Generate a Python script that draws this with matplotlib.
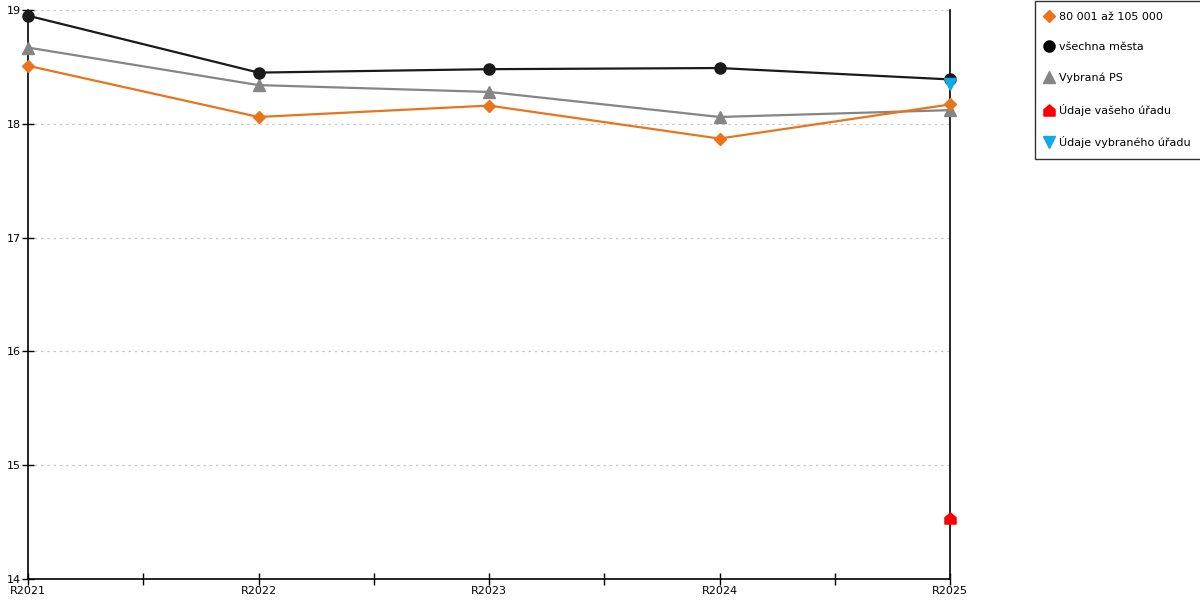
import numpy as np
import matplotlib.pyplot as plt
from matplotlib.lines import Line2D
from matplotlib.path import Path

# Hodnoty
roky = ['R2021', 'R2022', 'R2023', 'R2024', 'R2025']
velikost_80_105 = [18.51, 18.06, 18.16, 17.87, 18.17]
vsechna_mesta = [18.95, 18.45, 18.48, 18.49, 18.39]
vybrana_ps = [18.67, 18.34, 18.28, 18.06, 18.12]
vas_urad = [14.54]
vybrany_urad = [18.35]
y_ticks = [14, 15, 16, 17, 18, 19]

oranzova = '#E8741E'
seda = '#858585'
cervena = '#FF0000'
modra = '#11A9E6'

# domeček jako značka
domek = Path([(-1, -1), (1, -1), (1, 0.15), (0, 1), (-1, 0.15), (-1, -1)],
             [Path.MOVETO, Path.LINETO, Path.LINETO, Path.LINETO, Path.LINETO, Path.CLOSEPOLY])

plt.rcParams['font.family'] = ['DejaVu Sans']
fig = plt.figure(figsize=(12, 6), dpi=100)
ax = fig.add_axes([28 / 1200, 21 / 600, 922 / 1200, 569 / 600])

x = np.arange(len(roky))
last = x[-1:]

ax.plot(x, vybrana_ps, color=seda, lw=1.6, marker='^', ms=8, clip_on=False, zorder=3)
ax.plot(x, velikost_80_105, color=oranzova, lw=1.6, marker='D', ms=6, clip_on=False, zorder=4)
ax.plot(x, vsechna_mesta, color='#1a1a1a', lw=1.6, marker='o', ms=8, clip_on=False, zorder=5)
ax.plot(last, vybrany_urad, ls='none', color=modra, marker='v', ms=9, clip_on=False, zorder=6)
ax.plot(last, vas_urad, ls='none', color=cervena, marker=domek, ms=8, clip_on=False, zorder=6)

ax.set_xlim(0, 4)
ax.set_ylim(14, 19)
ax.set_xticks(x)
ax.set_xticklabels(roky)
ax.set_xticks(x[:-1] + 0.5, minor=True)
ax.set_yticks(y_ticks)
ax.grid(axis='y', color='#c8c8c8', ls=(0, (2, 3)), lw=0.9)
ax.set_axisbelow(True)

ax.spines['top'].set_visible(False)
for s in ['left', 'bottom', 'right']:
    ax.spines[s].set_color('black')
    ax.spines[s].set_linewidth(1.2)
ax.tick_params(axis='both', which='both', direction='inout', length=8, width=1,
               labelsize=8, pad=1)
ax.tick_params(axis='y', right=False)

handles = [
    Line2D([], [], ls='none', marker='D', color=oranzova, ms=6),
    Line2D([], [], ls='none', marker='o', color='black', ms=8),
    Line2D([], [], ls='none', marker='^', color=seda, ms=8),
    Line2D([], [], ls='none', marker=domek, color=cervena, ms=8),
    Line2D([], [], ls='none', marker='v', color=modra, ms=8),
]
labels = ['80 001 až 105 000', 'všechna města', 'Vybraná PS',
          'Údaje vašeho úřadu', 'Údaje vybraného úřadu']
leg = fig.legend(handles, labels, loc='upper left', bbox_to_anchor=(1035 / 1200, 1 - 1 / 600),
                 fontsize=8, frameon=True, fancybox=False, edgecolor='black',
                 handlelength=0.6, handletextpad=0.6, labelspacing=1.85,
                 borderpad=0.95, borderaxespad=0)
leg.get_frame().set_linewidth(1.0)

fig.savefig('out.png', dpi=100)
